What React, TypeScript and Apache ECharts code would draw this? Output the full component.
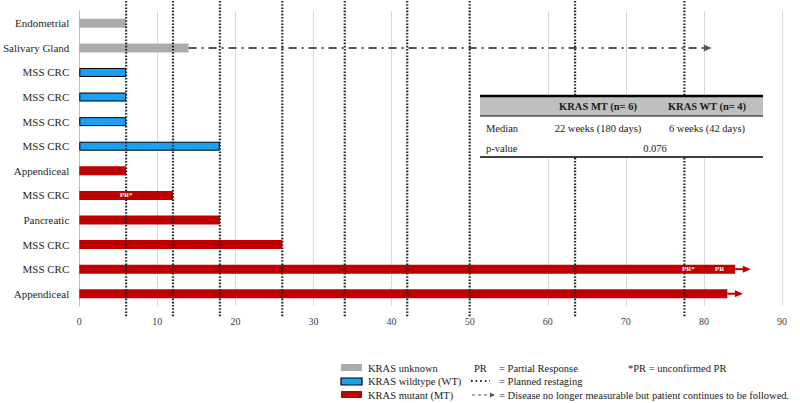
import React, { useEffect, useRef } from "react";
import * as echarts from "echarts";

const names = [
  "Endometrial", "Salivary Gland", "MSS CRC", "MSS CRC", "MSS CRC", "MSS CRC",
  "Appendiceal", "MSS CRC", "Pancreatic", "MSS CRC", "MSS CRC", "Appendiceal",
];
const durations = [6, 14, 6, 6, 6, 18, 6, 12, 18, 26, 84, 83];
const kras = ["unknown", "unknown", "WT", "WT", "WT", "WT", "MT", "MT", "MT", "MT", "MT", "MT"];
const arrowEnds: (number | null)[] = [null, 81, null, null, null, null, null, null, null, null, 86, 85];
const restaging = [6, 12, 18, 26, 34, 42, 50, 63.5, 77.5];
const prRows = [7, 10, 10];
const prWeeks = [6, 78, 82];
const prTexts = ["PR*", "PR*", "PR"];
const xMin = 0;
const xMax = 90;
const xInterval = 10;

const tableHeader = ["", "KRAS MT (n= 6)", "KRAS WT (n= 4)"];
const tableMedian = ["Median", "22 weeks (180 days)", "6 weeks (42 days)"];
const tablePValue = ["p-value", "0.076"];

const legendKras = ["KRAS unknown", "KRAS wildtype (WT)", "KRAS mutant (MT)"];
const legendKeys = ["PR", "= Partial Response", "*PR = unconfirmed PR", "= Planned restaging",
  "= Disease no longer measurable but patient continues to be followed."];

const COLORS: Record<string, string> = { unknown: "#ababab", WT: "#1b9ff2", MT: "#c00000" };
const FONT = "'Liberation Serif', 'Times New Roman', serif";

export default function App() {
  const ref = useRef<HTMLDivElement>(null);
  useEffect(() => {
    if (!ref.current) return;
    const chart = echarts.init(ref.current, undefined, { renderer: "svg" });
    const ids = names.map((_, i) => String(i));
    const barSeries = ["unknown", "WT", "MT"].map((k) => ({
      type: "bar",
      name: k,
      stack: "dur",
      barWidth: 9,
      data: durations.map((d, i) => (kras[i] === k ? d : "-")),
      itemStyle: {
        color: COLORS[k],
        borderColor: k === "WT" ? "#000" : undefined,
        borderWidth: k === "WT" ? 1 : 0,
      },
      z: 2,
    }));

    const arrowData = arrowEnds
      .map((e, i) => (e == null ? null : [i, durations[i], e]))
      .filter((x) => x != null);

    const tX = 480, tW = 283, tY = 96;
    const colC = [0, 598, 707];
    const txt = (text: string, x: number, y: number, opts: any = {}) => ({
      type: "text",
      x, y, z: 101,
      style: {
        text, fontFamily: FONT, fontSize: opts.fontSize || 10.5,
        fontWeight: opts.bold ? "bold" : "normal",
        fill: opts.fill || "#1a1a1a",
        align: opts.align || "left", verticalAlign: "middle",
      },
    });

    const graphic: any[] = [
      // table
      { type: "rect", z: 100, shape: { x: tX, y: tY, width: tW, height: 61 }, style: { fill: "#fff" } },
      { type: "rect", z: 100, shape: { x: tX, y: tY, width: tW, height: 20 }, style: { fill: "#bfbfbf" } },
      { type: "line", z: 101, shape: { x1: tX, y1: tY, x2: tX + tW, y2: tY }, style: { stroke: "#000", lineWidth: 2.5 } },
      { type: "line", z: 101, shape: { x1: tX, y1: tY + 20, x2: tX + tW, y2: tY + 20 }, style: { stroke: "#000", lineWidth: 1.2 } },
      { type: "line", z: 101, shape: { x1: tX, y1: 157, x2: tX + tW, y2: 157 }, style: { stroke: "#000", lineWidth: 1.5 } },
      txt(tableHeader[1], colC[1], tY + 10, { bold: true, align: "center" }),
      txt(tableHeader[2], colC[2], tY + 10, { bold: true, align: "center" }),
      txt(tableMedian[0], 486, 128),
      txt(tableMedian[1], colC[1], 128, { align: "center" }),
      txt(tableMedian[2], colC[2], 128, { align: "center" }),
      txt(tablePValue[0], 486, 148),
      txt(tablePValue[1], 655, 148, { align: "center" }),
      // legend swatches
      { type: "rect", z: 100, shape: { x: 341, y: 364, width: 21, height: 7 }, style: { fill: COLORS.unknown } },
      { type: "rect", z: 100, shape: { x: 341, y: 378, width: 21, height: 7 }, style: { fill: COLORS.WT, stroke: "#000", lineWidth: 1.2 } },
      { type: "rect", z: 100, shape: { x: 341, y: 391, width: 21, height: 7 }, style: { fill: COLORS.MT } },
      txt(legendKras[0], 368, 368),
      txt(legendKras[1], 368, 381.5),
      txt(legendKras[2], 368, 395),
      txt(legendKeys[0], 474, 368),
      txt(legendKeys[1], 499, 368),
      txt(legendKeys[2], 628, 368),
      { type: "line", z: 101, shape: { x1: 471, y1: 381, x2: 490, y2: 381 }, style: { stroke: "#222", lineWidth: 2, lineDash: [1.6, 3] } },
      txt(legendKeys[3], 499, 381.5),
      { type: "line", z: 101, shape: { x1: 472, y1: 395, x2: 490, y2: 395 }, style: { stroke: "#555", lineWidth: 1.2, lineDash: [3, 3] } },
      { type: "polygon", z: 101, shape: { points: [[495, 395], [490, 392.5], [490, 397.5]] }, style: { fill: "#555" } },
      txt(legendKeys[4], 499, 395),
    ];

    chart.setOption({
      animation: false,
      grid: { left: 79, right: 18, top: 11, bottom: 97, containLabel: false },
      xAxis: {
        type: "value", min: xMin, max: xMax, interval: xInterval,
        axisLine: { show: false }, axisTick: { show: false },
        splitLine: { lineStyle: { color: "#d9d9d9", width: 1 } },
        axisLabel: { margin: 10, fontSize: 10, fontFamily: FONT, color: "#404040" },
      },
      yAxis: {
        type: "category", inverse: true, data: ids,
        axisLine: { show: true, lineStyle: { color: "#bfbfbf", width: 1 } },
        axisTick: { show: false },
        splitLine: { show: false },
        axisLabel: {
          margin: 10, fontSize: 11, fontFamily: FONT, color: "#262626",
          formatter: (v: string) => names[Number(v)],
        },
      },
      series: [
        ...barSeries,
        {
          type: "custom",
          name: "continues",
          clip: false,
          z: 3,
          encode: { x: [1, 2], y: 0 },
          data: arrowData,
          renderItem: (params: any, api: any) => {
            const row = api.value(0);
            const p1 = api.coord([api.value(1), row]);
            const p2 = api.coord([api.value(2), row]);
            const isDash = kras[row] === "unknown";
            const stroke = isDash ? "#555" : COLORS.MT;
            const hl = 8, hw = 3.5;
            return {
              type: "group",
              children: [
                {
                  type: "line",
                  shape: { x1: p1[0], y1: p1[1], x2: p2[0] - hl + 1, y2: p1[1] },
                  style: { stroke, lineWidth: 2, lineDash: isDash ? [8, 5, 2, 5] : null },
                },
                {
                  type: "polygon",
                  shape: { points: [[p2[0], p2[1]], [p2[0] - hl, p2[1] - hw], [p2[0] - hl, p2[1] + hw]] },
                  style: { fill: stroke },
                },
              ],
            };
          },
        },
        {
          type: "custom",
          name: "restaging",
          clip: false,
          z: 4,
          encode: { x: 0, y: 1 },
          data: restaging.map((v) => [v, 0]),
          renderItem: (params: any, api: any) => {
            const x = api.coord([api.value(0), 0])[0];
            const cs = params.coordSys;
            return {
              type: "line",
              shape: { x1: x, y1: 1, x2: x, y2: cs.y + cs.height + 11 },
              style: { stroke: "#1c2b2b", lineWidth: 2.2, lineDash: [1.6, 1.6] },
            };
          },
        },
        {
          type: "custom",
          name: "pr",
          clip: false,
          z: 5,
          encode: { x: 1, y: 0 },
          data: prRows.map((r, i) => [r, prWeeks[i], i]),
          renderItem: (params: any, api: any) => {
            const p = api.coord([api.value(1), api.value(0)]);
            return {
              type: "text",
              x: p[0], y: p[1],
              style: {
                text: prTexts[api.value(2)], fill: "#fff", fontSize: 7, fontWeight: "bold",
                fontFamily: FONT, align: "center", verticalAlign: "middle",
              },
            };
          },
        },
      ],
      graphic,
    });
    return () => chart.dispose();
  }, []);
  return (
    <div
      ref={ref}
      style={{ position: "fixed", left: 0, top: 0, width: 800, height: 403, background: "#fff" }}
    />
  );
}
